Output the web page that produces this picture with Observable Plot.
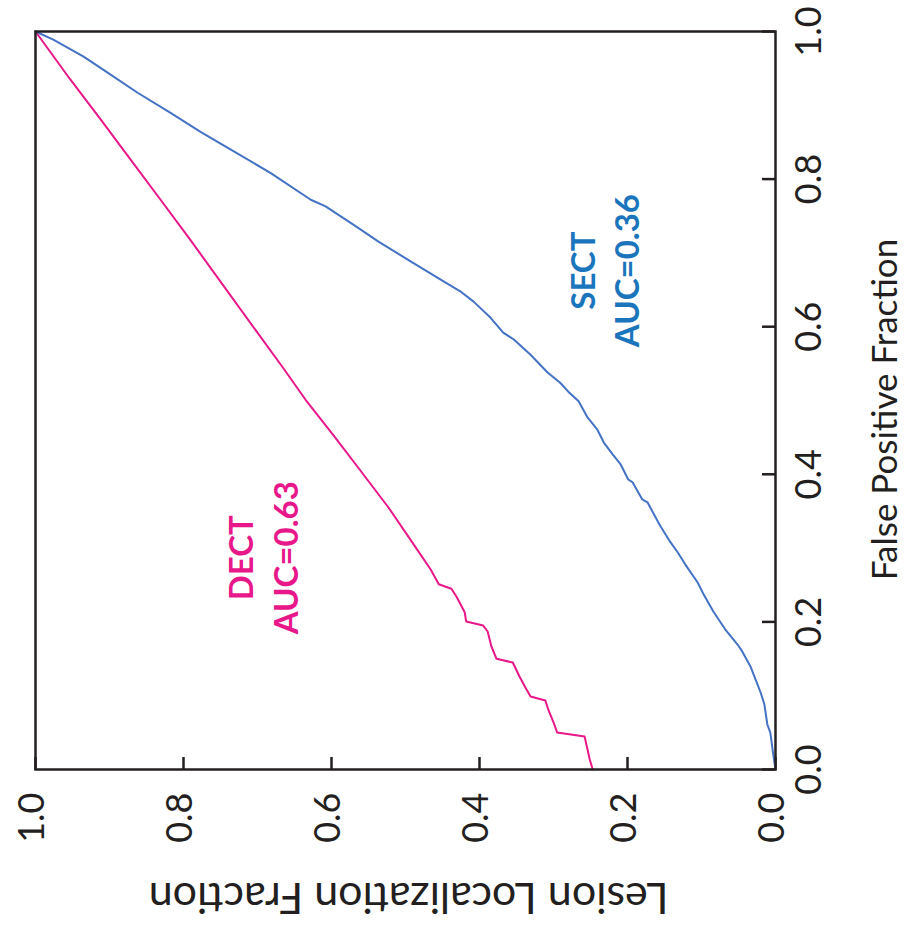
<!DOCTYPE html>
<html><head><meta charset="utf-8">
<script src="https://cdn.jsdelivr.net/npm/d3@7"></script>
<script src="https://cdn.jsdelivr.net/npm/@observablehq/plot@0.6"></script>
<style>
html,body{margin:0;padding:0;background:#fff;}
#wrap{position:relative;width:904px;height:936px;overflow:hidden;}
#wrap svg{position:absolute;left:0;top:0;width:936px !important;height:904px !important;max-width:none !important;transform-origin:0 0;transform:translate(0,936px) rotate(-90deg);}
</style></head><body><div id="wrap"></div>
<script>
// Axis ticks
const fpfTicks = [0, 0.2, 0.4, 0.6, 0.8, 1.0];
const llfTicks = [0, 0.2, 0.4, 0.6, 0.8, 1.0];

// DECT curve (False Positive Fraction, Lesion Localization Fraction)
const dectFPF = [0, 0.0136, 0.027, 0.0447, 0.050, 0.064, 0.081, 0.0935, 0.099, 0.111, 0.126, 0.145, 0.150, 0.167, 0.187, 0.195, 0.2005, 0.213, 0.234, 0.245, 0.251, 0.271, 0.305, 0.355, 0.4065, 0.4525, 0.501, 0.545, 0.596, 0.661, 0.718, 0.772, 0.827, 0.881, 0.935, 1.0];
const dectLLF = [0.247, 0.251, 0.254, 0.258, 0.295, 0.300, 0.307, 0.311, 0.331, 0.338, 0.346, 0.355, 0.377, 0.384, 0.389, 0.395, 0.418, 0.420, 0.431, 0.438, 0.455, 0.466, 0.489, 0.523, 0.562, 0.597, 0.635, 0.666, 0.703, 0.750, 0.791, 0.831, 0.872, 0.912, 0.953, 1.0];

// SECT curve
const sectFPF = [1.0, 0.989, 0.966, 0.942, 0.917, 0.890, 0.864, 0.840, 0.808, 0.772, 0.763, 0.738, 0.715, 0.691, 0.664, 0.648, 0.634, 0.612, 0.592, 0.583, 0.562, 0.538, 0.524, 0.512, 0.499, 0.477, 0.461, 0.443, 0.427, 0.413, 0.393, 0.389, 0.366, 0.362, 0.336, 0.329, 0.308, 0.294, 0.278, 0.253, 0.237, 0.214, 0.190, 0.169, 0.160, 0.140, 0.122, 0.104, 0.088, 0.061, 0.050, 0.020, 0];
const sectLLF = [1.0, 0.976, 0.935, 0.899, 0.862, 0.818, 0.777, 0.736, 0.682, 0.628, 0.608, 0.570, 0.536, 0.497, 0.453, 0.426, 0.408, 0.385, 0.368, 0.354, 0.331, 0.308, 0.291, 0.280, 0.266, 0.254, 0.241, 0.232, 0.220, 0.209, 0.199, 0.193, 0.180, 0.173, 0.159, 0.155, 0.142, 0.132, 0.122, 0.105, 0.097, 0.084, 0.068, 0.051, 0.045, 0.034, 0.027, 0.020, 0.015, 0.011, 0.007, 0.003, 0];

// Labels
const seriesNames = ["DECT", "SECT"];
const aucLabels = ["AUC=0.63", "AUC=0.36"];
const labelFPF = [0.287, 0.676];
const nameLLF = [0.72, 0.258];
const aucLLF = [0.66, 0.199];
const seriesColors = ["#E8178A", "#4472C4"];
const labelColors = ["#E8178A", "#1B75BC"];

const dect = dectFPF.map((f, i) => ({fpf: f, llf: dectLLF[i]}));
const sect = sectFPF.map((f, i) => ({fpf: f, llf: sectLLF[i]}));
const labels = seriesNames.map((n, i) => ({name: n, auc: aucLabels[i], fpf: labelFPF[i], nllf: nameLLF[i], allf: aucLLF[i], color: labelColors[i]}));

const ink = "#231f20";
const chart = Plot.plot({
  width: 936, height: 904,
  marginLeft: 166, marginRight: 32, marginTop: 35, marginBottom: 129,
  style: {fontFamily: "Lato, sans-serif", background: "white", color: ink},
  x: {domain: [0, 1]},
  y: {domain: [0, 1]},
  marks: [
    Plot.axisX(fpfTicks, {tickSize: 0, tickPadding: 20, fontSize: 36, tickFormat: d3.format(".1f"), label: null}),
    Plot.axisY(llfTicks, {tickSize: 0, tickPadding: 23, fontSize: 36, tickFormat: d3.format(".1f"), label: null, dy: -3}),
    Plot.tickX(fpfTicks, {x: d => d, insetTop: 727, stroke: ink, strokeWidth: 2.5}),
    Plot.tickY(llfTicks, {y: d => d, insetRight: 725, stroke: ink, strokeWidth: 2.5}),
    Plot.line(dect, {x: "fpf", y: "llf", stroke: seriesColors[0], strokeWidth: 2}),
    Plot.line(sect, {x: "fpf", y: "llf", stroke: seriesColors[1], strokeWidth: 2}),
    Plot.frame({stroke: ink, strokeWidth: 2.5}),
    Plot.text(labels, {x: "fpf", y: "nllf", text: "name", fill: "color", fontSize: 33, fontWeight: "bold", textAnchor: "middle", lineAnchor: "middle"}),
    Plot.text(labels, {x: "fpf", y: "allf", text: "auc", fill: "color", fontSize: 33, fontWeight: "bold", textAnchor: "middle", lineAnchor: "middle"}),
    Plot.text(["False Positive Fraction"], {frameAnchor: "bottom", dy: 110, dx: -9, textAnchor: "middle", lineAnchor: "middle", fontSize: 35, fill: ink}),
    Plot.text(["Lesion Localization Fraction"], {frameAnchor: "left", dx: -127, dy: 3, rotate: -90, textAnchor: "middle", lineAnchor: "middle", fontSize: 43, fill: ink})
  ]
});
document.getElementById("wrap").appendChild(chart);
</script>
</body></html>
